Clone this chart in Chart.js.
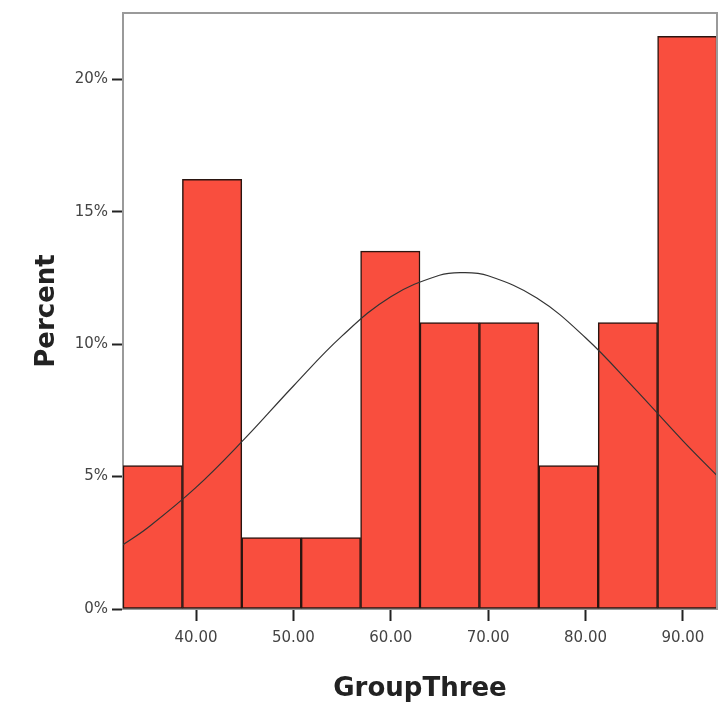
<!DOCTYPE html>
<html>
<head>
<meta charset="utf-8">
<script src="https://cdn.jsdelivr.net/npm/chart.js@4.4.1/dist/chart.umd.min.js"></script>
<style>
html,body{margin:0;padding:0;background:#fff;}
#wrap{width:727px;height:706px;}
</style>
</head>
<body>
<div id="wrap"><canvas id="c" width="727" height="706"></canvas></div>
<script>
// Histogram bins (centres of bins from 32.5 to 93.5, width 6.1)
const binCenters = [35.55, 41.65, 47.75, 53.85, 59.95, 66.05, 72.15, 78.25, 84.35, 90.45];
const percents = [5.41, 16.22, 2.70, 2.70, 13.51, 10.81, 10.81, 5.41, 10.81, 21.62];
// Normal curve points
const curveX = [32.5, 35, 40, 45, 50, 55, 60, 65, 67.4, 70, 75, 80, 85, 90, 93.5];
const curveY = [2.43, 3.06, 4.59, 6.43, 8.42, 10.31, 11.79, 12.60, 12.70, 12.58, 11.74, 10.24, 8.34, 6.35, 5.04];
// Axis ticks
const xTicks = [40, 50, 60, 70, 80, 90];
const yTicks = [0, 5, 10, 15, 20];
const xRange = [32.5, 93.5];
const yRange = [0, 22.5];

const barData = binCenters.map((x, i) => ({x: x, y: percents[i]}));
const curveData = curveX.map((x, i) => ({x: x, y: curveY[i]}));

const framePlugin = {
  id: 'frame',
  afterDatasetsDraw(chart) {
    const a = chart.chartArea, ctx = chart.ctx;
    ctx.save();
    ctx.strokeStyle = '#9a9a9a';
    ctx.lineWidth = 2;
    ctx.beginPath();
    ctx.moveTo(a.left, a.top);
    ctx.lineTo(a.right, a.top);
    ctx.lineTo(a.right, a.bottom);
    ctx.stroke();
    ctx.restore();
  }
};

new Chart(document.getElementById('c'), {
  type: 'bar',
  data: {
    datasets: [
      {
        type: 'line',
        data: curveData,
        borderColor: '#333333',
        borderWidth: 1.2,
        pointRadius: 0,
        tension: 0.4,
        fill: false,
        order: 0
      },
      {
        type: 'bar',
        data: barData,
        backgroundColor: '#F94E3E',
        borderColor: '#2a1510',
        borderWidth: 1.5,
        borderSkipped: false,
        barPercentage: 1,
        categoryPercentage: 1,
        order: 1
      }
    ]
  },
  plugins: [framePlugin],
  options: {
    responsive: false,
    animation: false,
    layout: {padding: {top: 13, right: 10, left: 0, bottom: 0}},
    plugins: {legend: {display: false}, tooltip: {enabled: false}},
    scales: {
      x: {
        type: 'linear',
        min: xRange[0],
        max: xRange[1],
        offset: false,
        afterFit(s) { s.height = 97; },
        afterBuildTicks(s) { s.ticks = xTicks.map(v => ({value: v})); },
        grid: {drawOnChartArea: false, offset: false, tickLength: 12, tickColor: '#222', tickWidth: 2},
        border: {color: '#9a9a9a', width: 2},
        ticks: {
          color: '#444',
          font: {family: 'DejaVu Sans', size: 15},
          padding: 8,
          maxRotation: 0,
          callback: v => Number(v).toFixed(2)
        },
        title: {
          display: true,
          text: 'GroupThree',
          color: '#222',
          font: {family: 'DejaVu Sans', size: 26, weight: 'bold'},
          padding: {top: 0, bottom: 1}
        }
      },
      y: {
        min: yRange[0],
        max: yRange[1],
        afterFit(s) { s.width = 123; },
        afterBuildTicks(s) { s.ticks = yTicks.map(v => ({value: v})); },
        grid: {drawOnChartArea: false, tickLength: 11, tickColor: '#222', tickWidth: 2},
        border: {color: '#9a9a9a', width: 2},
        ticks: {
          color: '#444',
          font: {family: 'DejaVu Sans', size: 15},
          padding: 4,
          callback: v => v + '%'
        },
        title: {
          display: true,
          text: 'Percent',
          color: '#222',
          font: {family: 'DejaVu Sans', size: 26, weight: 'bold'},
          padding: {top: 32, bottom: 0}
        }
      }
    }
  }
});
</script>
</body>
</html>
